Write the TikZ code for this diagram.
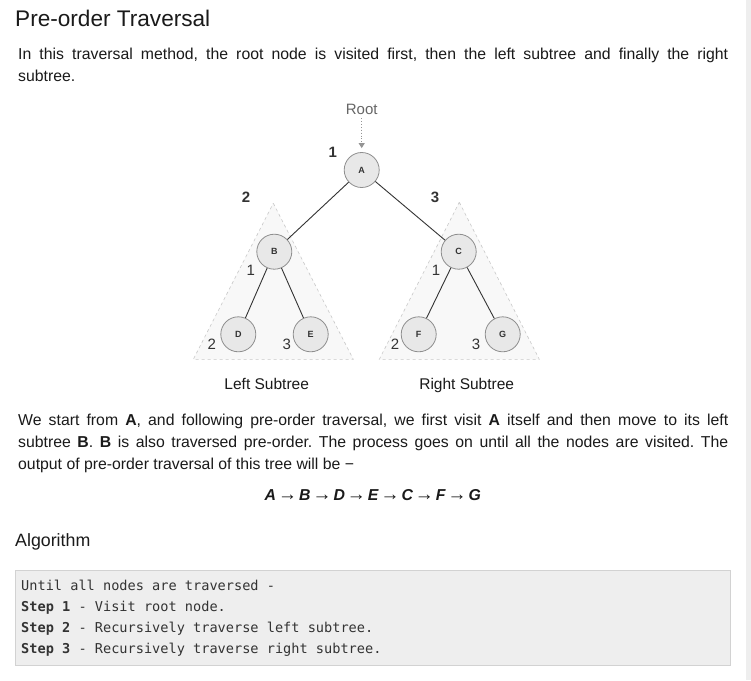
\documentclass[tikz,border=0pt]{standalone}
\usepackage{fontspec}
\setmainfont{Liberation Sans}
\setmonofont{DejaVu Sans Mono}
\usetikzlibrary{arrows.meta}
\frenchspacing

\definecolor{textcol}{HTML}{1A1A1A}
\definecolor{labelcol}{HTML}{333333}
\definecolor{rootcol}{HTML}{666666}
\definecolor{nodefill}{HTML}{E8E8E8}
\definecolor{nodeline}{HTML}{8E8E8E}
\definecolor{subfill}{HTML}{F8F8F8}
\definecolor{subline}{HTML}{C8C8C8}
\definecolor{codebg}{HTML}{EEEEEE}
\definecolor{codeline}{HTML}{D2D2D2}
\definecolor{scrollcol}{HTML}{EEEEEE}

\tikzset{
  treenode/.style={circle,draw=nodeline,fill=nodefill,line width=0.8pt,minimum size=35pt,inner sep=0pt,
    font=\fontsize{9}{9}\selectfont\bfseries,text=labelcol},
  treeedge/.style={draw=labelcol,line width=0.9pt},
  subtree/.style={fill=subfill,draw=subline,dashed,line width=0.6pt},
  bodytext/.style={anchor=base west,inner sep=0pt,text=textcol,font=\fontsize{15.8}{22}\selectfont},
  stepnum/.style={anchor=base,inner sep=0pt,text=labelcol,font=\fontsize{15}{15}\selectfont\bfseries},
  visitnum/.style={anchor=base,inner sep=0pt,text=labelcol,font=\fontsize{15}{15}\selectfont},
  codetext/.style={anchor=base west,inner sep=0pt,text=labelcol,font=\fontsize{13.6}{13.6}\selectfont\ttfamily}
}
\newcommand{\jline}[1]{\hbox to 710pt{#1}}
\newcommand{\seqarrow}{{\normalfont\hspace{2pt}{\fontsize{19}{19}\selectfont →}\hspace{2pt}}}

\begin{document}
\begin{tikzpicture}[x=1pt,y=-1pt]
  \useasboundingbox[fill=white] (0,0) rectangle (751,680);
  \fill[scrollcol] (746,0) rectangle (751,680);

  % heading and first paragraph
  \node[anchor=base west,inner sep=0pt,text=textcol,font=\fontsize{22.6}{22.6}\selectfont] (title) at (15,26) {Pre-order Traversal};
  \node[bodytext] (p1a) at (18,59.5) {\jline{In this traversal method, the root node is visited first, then the left subtree and finally the right}};
  \node[bodytext] (p1b) at (18,81.5) {subtree.};

  % the two subtrees
  \draw[subtree] (273.3,203.3) -- (353.3,359.3) -- (193.3,359.3) -- cycle;
  \draw[subtree] (459.3,202.3) -- (539.3,359.3) -- (379.3,359.3) -- cycle;

  % tree
  \node[treenode] (A) at (361.7,170) {A};
  \node[treenode] (B) at (274.3,251.7) {B};
  \node[treenode] (C) at (458.7,251.7) {C};
  \node[treenode] (D) at (238.3,334.3) {D};
  \node[treenode] (E) at (310.7,334.3) {E};
  \node[treenode] (F) at (418.7,334.3) {F};
  \node[treenode] (G) at (502.7,334.3) {G};
  \draw[treeedge] (A) -- (B);
  \draw[treeedge] (A) -- (C);
  \draw[treeedge] (B) -- (D);
  \draw[treeedge] (B) -- (E);
  \draw[treeedge] (C) -- (F);
  \draw[treeedge] (C) -- (G);

  \node[anchor=base,inner sep=0pt,text=rootcol,font=\fontsize{15}{15}\selectfont] (root) at (361.7,114.3) {Root};
  \draw[rootcol!70,dotted,line width=0.9pt,-{Triangle[length=5pt,width=6pt]}] ([yshift=-3.5pt]root.south) -- ([yshift=4pt]A.north);

  \node[stepnum] (s1) at (332.7,157.7) {1};
  \node[stepnum] (s2) at (246,202.3) {2};
  \node[stepnum] (s3) at (435,202.3) {3};
  \foreach \x/\y/\n in {250.7/275/1, 436/275/1, 211.7/349.7/2, 286.7/349.7/3, 395/349.7/2, 476/349.7/3}
    \node[visitnum] at (\x,\y) {\n};

  \node[anchor=base,inner sep=0pt,text=textcol,font=\fontsize{15.5}{15.5}\selectfont] (lsub) at (266.7,389) {Left Subtree};
  \node[anchor=base,inner sep=0pt,text=textcol,font=\fontsize{15.5}{15.5}\selectfont] (rsub) at (466.7,389) {Right Subtree};

  % second paragraph
  \node[bodytext] (p2a) at (18,425) {\jline{We start from \textbf{A}, and following pre-order traversal, we first visit \textbf{A} itself and then move to its left}};
  \node[bodytext] (p2b) at (18,447) {\jline{subtree \textbf{B}. \textbf{B} is also traversed pre-order. The process goes on until all the nodes are visited. The}};
  \node[bodytext] (p2c) at (18,469) {output of pre-order traversal of this tree will be −};
  \node[anchor=base,inner sep=0pt,text=textcol,font=\fontsize{15.8}{15.8}\selectfont\bfseries\itshape] (seq) at (372.8,500.7)
    {A\seqarrow B\seqarrow D\seqarrow E\seqarrow C\seqarrow F\seqarrow G};

  % algorithm
  \node[anchor=base west,inner sep=0pt,text=textcol,font=\fontsize{17.8}{17.8}\selectfont] (algo) at (15,546.7) {Algorithm};
  \draw[fill=codebg,draw=codeline,line width=0.8pt] (15,570.7) rectangle (730.7,665.3);
  \node[codetext] (c0) at (21,590.7) {Until all nodes are traversed -};
  \node[codetext] (c1) at (21,611.7) {\textbf{Step 1} - Visit root node.};
  \node[codetext] (c2) at (21,632.7) {\textbf{Step 2} - Recursively traverse left subtree.};
  \node[codetext] (c3) at (21,653.5) {\textbf{Step 3} - Recursively traverse right subtree.};
\end{tikzpicture}
\end{document}
